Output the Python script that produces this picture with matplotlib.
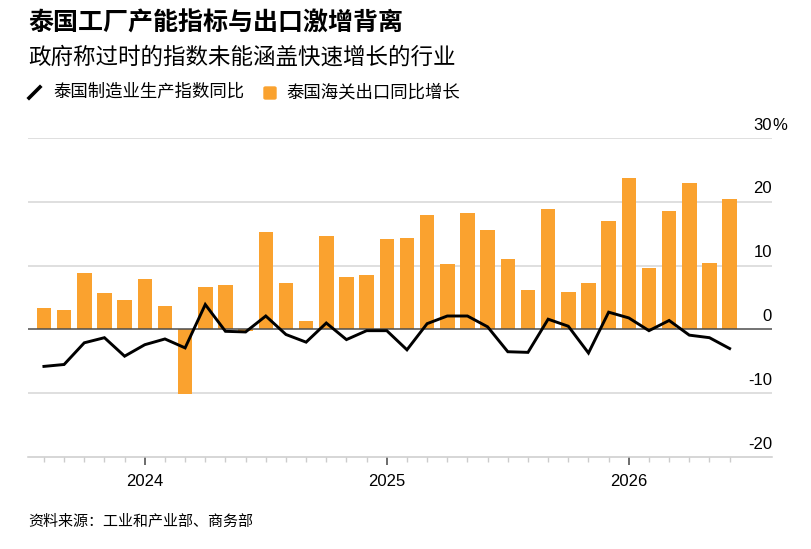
import matplotlib
matplotlib.use("Agg")
import matplotlib.pyplot as plt
import numpy as np
import pandas as pd
from matplotlib.lines import Line2D
from matplotlib.patches import FancyBboxPatch

# monthly data, Aug 2023 - Jun 2026
months = pd.date_range("2023-08-01", periods=35, freq="MS")
exports_yoy = [3.3, 3.0, 8.8, 5.7, 4.6, 7.9, 3.7, -10.2, 6.6, 7.0, -0.2, 15.2,
               7.2, 1.3, 14.7, 8.2, 8.6, 14.2, 14.4, 17.9, 10.2, 18.2, 15.6, 11.0,
               6.2, 18.9, 5.9, 7.3, 17.0, 23.7, 9.7, 18.5, 22.9, 10.4, 20.5]
mpi_yoy = [-5.8, -5.5, -2.1, -1.3, -4.2, -2.4, -1.5, -2.9, 3.9, -0.3, -0.4, 2.1,
           -0.8, -2.0, 1.0, -1.6, -0.2, -0.2, -3.2, 0.9, 2.1, 2.1, 0.4, -3.5,
           -3.6, 1.6, 0.5, -3.7, 2.7, 1.8, -0.2, 1.4, -0.9, -1.3, -3.0]
y_ticks = [-20, -10, 0, 10, 20, 30]

title = "泰国工厂产能指标与出口激增背离"
subtitle = "政府称过时的指数未能涵盖快速增长的行业"
legend_labels = ["泰国制造业生产指数同比", "泰国海关出口同比增长"]
source = "资料来源：工业和产业部、商务部"

ORANGE = "#FAA22F"
FONT = ["Liberation Sans", "Noto Sans CJK SC", "DejaVu Sans"]
CJK = ["Noto Sans CJK SC", "DejaVu Sans"]
plt.rcParams["font.family"] = FONT

W, H = 811, 549
fig = plt.figure(figsize=(W / 100, H / 100), dpi=100)
ax = fig.add_axes([28 / W, 1 - 457 / H, (772 - 28) / W, (457 - 138) / H])

x = np.arange(len(months))
ax.bar(x, exports_yoy, width=0.72, color=ORANGE, zorder=2)
ax.plot(x, mpi_yoy, color="black", lw=2.1, zorder=4, solid_joinstyle="miter")

ax.set_xlim(-0.79, 36.1)
ax.set_ylim(-20, 30)

# grid lines and zero line
for v in y_ticks:
    if v == 0:
        ax.axhline(0, color="#4d4d4d", lw=1.1, zorder=3)
    elif v != -20:
        ax.axhline(v, color="#d6d6d6", lw=1.1, zorder=1)

for s in ["top", "right", "left"]:
    ax.spines[s].set_visible(False)
ax.spines["bottom"].set_color("#cccccc")
ax.spines["bottom"].set_linewidth(1.1)
ax.set_yticks([])

# month minor ticks, year major ticks
year_idx = [i for i, m in enumerate(months) if m.month == 1]
ax.set_xticks(year_idx)
ax.set_xticklabels([str(months[i].year) for i in year_idx], fontsize=12)
ax.set_xticks(x, minor=True)
ax.tick_params(axis="x", which="major", length=6, width=1.1, color="#444444", pad=6)
ax.tick_params(axis="x", which="minor", length=3.5, width=1, color="#cccccc")

# right-side value labels above grid lines
for v in y_ticks:
    ax.annotate(str(v), xy=(1.0, v), xycoords=ax.get_yaxis_transform(),
                xytext=(0, 6), textcoords="offset points",
                ha="right", va="baseline", fontsize=12)
ax.annotate("%", xy=(1.0, 30), xycoords=ax.get_yaxis_transform(),
            xytext=(0, 6), textcoords="offset points",
            ha="left", va="baseline", fontsize=12)

# titles
fig.text(28 / W, 1 - 24 / H, title, fontsize=18, fontweight="bold",
         family=CJK, va="center", ha="left")
fig.text(28 / W, 1 - 57 / H, subtitle, fontsize=16.2, family=CJK,
         va="center", ha="left")

# legend
fig.add_artist(Line2D([29 / W, 40 / W], [1 - 98 / H, 1 - 87 / H],
                      color="black", lw=2.6, transform=fig.transFigure))
fig.text(53 / W, 1 - 92 / H, legend_labels[0], fontsize=12.5, family=CJK,
         va="center", ha="left")
fig.add_artist(FancyBboxPatch((264 / W, 1 - 99 / H), 12 / W, 12 / H,
                              boxstyle="round,pad=0,rounding_size=0.002",
                              color=ORANGE, transform=fig.transFigure))
fig.text(286 / W, 1 - 92 / H, legend_labels[1], fontsize=12.5, family=CJK,
         va="center", ha="left")

fig.text(28 / W, 1 - 522 / H, source, fontsize=10.8, family=CJK,
         va="center", ha="left")

fig.savefig("out.png", dpi=100)
